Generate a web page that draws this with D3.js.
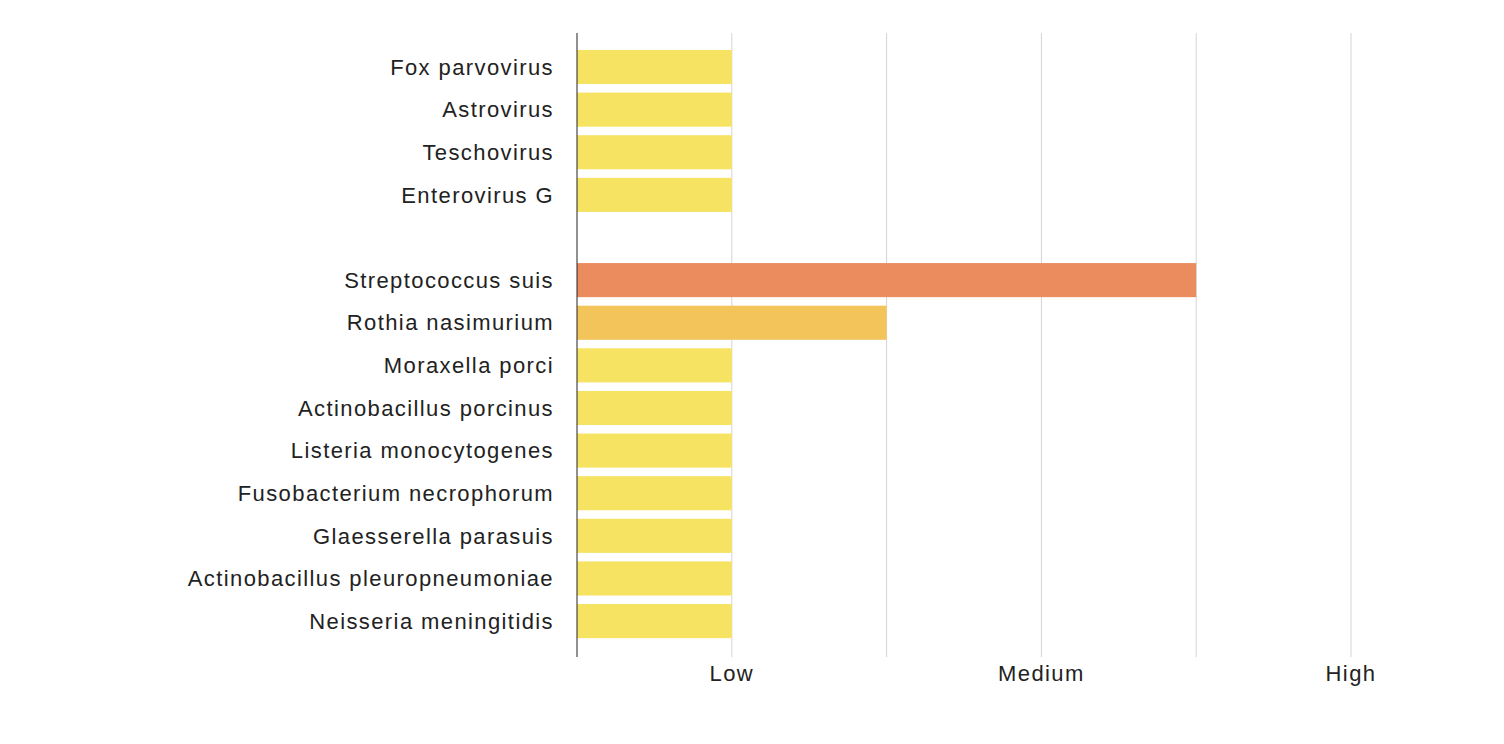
<!DOCTYPE html>
<html><head><meta charset="utf-8">
<script src="https://cdn.jsdelivr.net/npm/d3@7"></script>
<style>body{margin:0;background:#fff}text{font-family:"Liberation Sans",Arial,sans-serif;fill:#222;letter-spacing:1.4px}</style>
</head><body>
<svg id="chart" width="1504" height="744"></svg>
<script>
// organisms, top to bottom ("" is the blank spacer row)
var names = ["Fox parvovirus", "Astrovirus", "Teschovirus", "Enterovirus G", "",
  "Streptococcus suis", "Rothia nasimurium", "Moraxella porci", "Actinobacillus porcinus",
  "Listeria monocytogenes", "Fusobacterium necrophorum", "Glaesserella parasuis",
  "Actinobacillus pleuropneumoniae", "Neisseria meningitidis"];
var levels = [1, 1, 1, 1, 0, 4, 2, 1, 1, 1, 1, 1, 1, 1];
var colors = ["#f6e362", "#f6e362", "#f6e362", "#f6e362", "none", "#eb8c5e", "#f2c45a",
  "#f6e362", "#f6e362", "#f6e362", "#f6e362", "#f6e362", "#f6e362", "#f6e362"];
var tickVals = [1, 3, 5];
var tickNames = ["Low", "Medium", "High"];

var svg = d3.select("#chart");
var x = d3.scaleLinear().domain([0, 5]).range([577, 1351]);
var y = d3.scaleBand().domain(d3.range(names.length)).range([45.7, 642.4])
  .paddingInner(0.2).paddingOuter(0.1);

// grid lines
svg.selectAll(".grid").data(d3.range(1, 6)).enter().append("line")
  .attr("x1", function(d) { return x(d); }).attr("x2", function(d) { return x(d); })
  .attr("y1", 33).attr("y2", 657)
  .attr("stroke", "#d4d4d4").attr("stroke-width", 1);

levels.forEach(function(d, i) {
  if (!d) return;
  svg.append("rect").attr("x", x(0)).attr("y", y(i))
    .attr("width", x(d) - x(0)).attr("height", y.bandwidth())
    .attr("fill", colors[i]);
});

svg.append("line").attr("x1", x(0)).attr("x2", x(0)).attr("y1", 33).attr("y2", 657)
  .attr("stroke", "#222").attr("stroke-width", 1);

names.forEach(function(n, i) {
  svg.append("text").attr("x", 554).attr("y", y(i) + y.bandwidth() / 2)
    .attr("dy", "0.35em").attr("text-anchor", "end").attr("font-size", 22).text(n);
});

tickVals.forEach(function(v, i) {
  svg.append("text").attr("x", x(v)).attr("y", 681)
    .attr("text-anchor", "middle").attr("font-size", 22).text(tickNames[i]);
});
</script>
</body></html>
